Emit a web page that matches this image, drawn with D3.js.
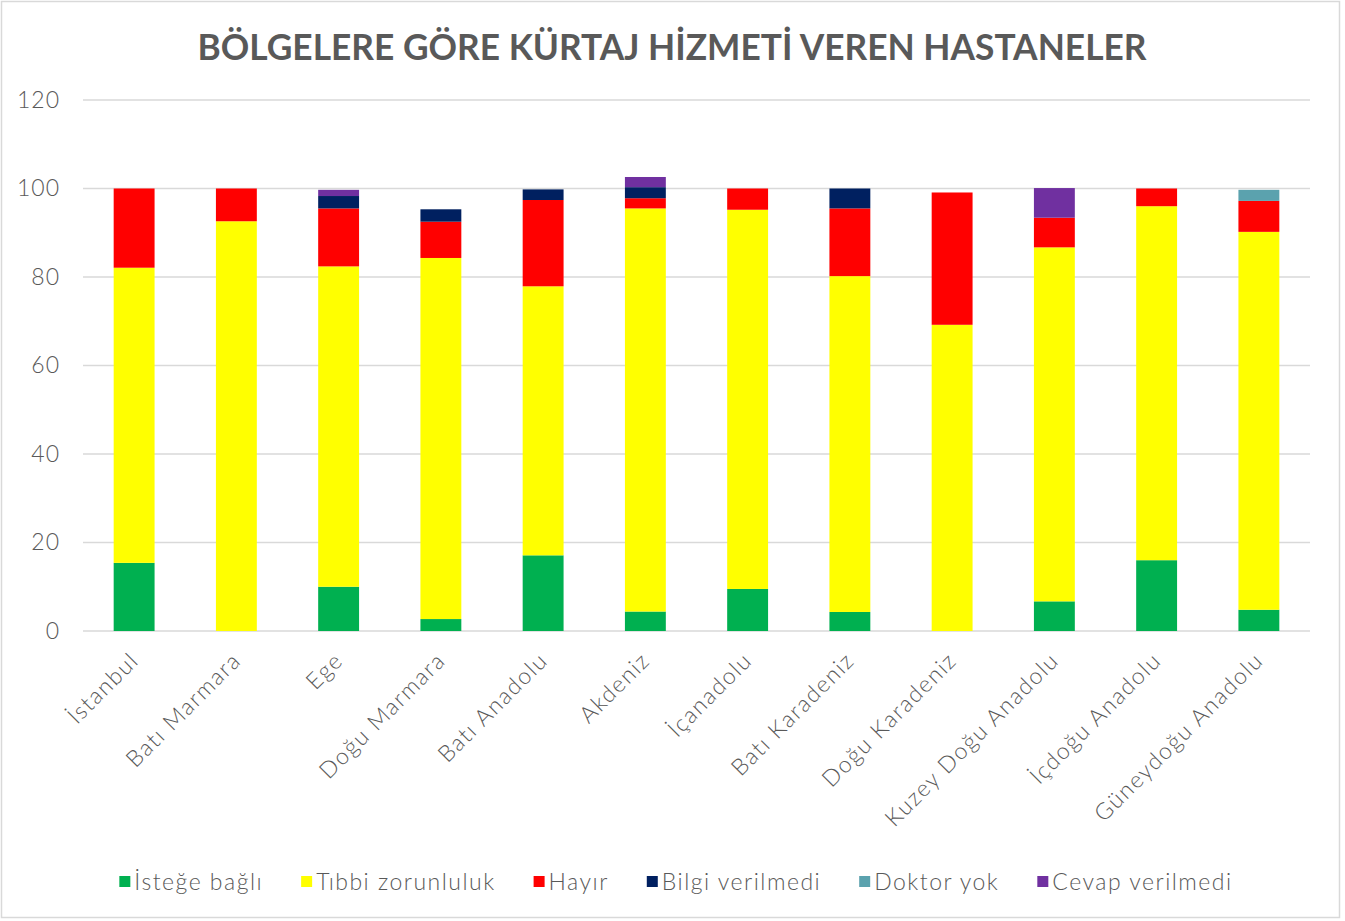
<!DOCTYPE html>
<html>
<head>
<meta charset="utf-8">
<script src="https://cdn.jsdelivr.net/npm/d3@7"></script>
<style>
  body { margin: 0; background: #fff; }
  svg { display: block; }
  text { font-family: Lato, "Open Sans", sans-serif; fill: #595959; }
  .lbl { font-weight: 300; letter-spacing: 1.5px; font-size: 23px; }
</style>
</head>
<body>
<svg id="chart" width="1345" height="921"></svg>
<script>
// regions on the x axis
const regions = ["İstanbul", "Batı Marmara", "Ege", "Doğu Marmara", "Batı Anadolu", "Akdeniz",
    "İçanadolu", "Batı Karadeniz", "Doğu Karadeniz", "Kuzey Doğu Anadolu", "İçdoğu Anadolu", "Güneydoğu Anadolu"];

// series values (percent of hospitals)
const istegeBagli      = [15.4, 0,    10.0, 2.7,  17.1, 4.4,  9.5,  4.3,  0,    6.7,  16.0, 4.8];
const tibbiZorunluluk  = [66.7, 92.6, 72.4, 81.6, 60.8, 91.1, 85.7, 75.9, 69.2, 80.0, 80.0, 85.4];
const hayir            = [17.9, 7.4,  13.1, 8.2,  19.5, 2.3,  4.8,  15.3, 29.9, 6.7,  4.0,  7.0];
const bilgiVerilmedi   = [0,    0,    2.8,  2.8,  2.4,  2.5,  0,    4.5,  0,    0,    0,    0];
const doktorYok        = [0,    0,    0,    0,    0,    0,    0,    0,    0,    0,    0,    2.5];
const cevapVerilmedi   = [0,    0,    1.4,  0,    0,    2.3,  0,    0,    0,    6.7,  0,    0];

const seriesNames = ["İsteğe bağlı", "Tıbbi zorunluluk", "Hayır", "Bilgi verilmedi", "Doktor yok", "Cevap verilmedi"];
const seriesValues = [istegeBagli, tibbiZorunluluk, hayir, bilgiVerilmedi, doktorYok, cevapVerilmedi];
const seriesColors = ["#00B050", "#FFFF00", "#FF0000", "#002060", "#5BA2AE", "#7030A0"];

const yTicks = [0, 20, 40, 60, 80, 100, 120];
const title = "BÖLGELERE GÖRE KÜRTAJ HİZMETİ VEREN HASTANELER";

// build rows for d3.stack
const rows = regions.map((r, i) => {
    const row = {region: r};
    seriesNames.forEach((s, j) => { row[s] = seriesValues[j][i]; });
    return row;
});

const plot = {left: 83, right: 1310, top: 100, bottom: 631};

const svg = d3.select("#chart");

// chart border
svg.append("rect")
    .attr("x", 1.5).attr("y", 1.5)
    .attr("width", 1338).attr("height", 916)
    .attr("fill", "none")
    .attr("stroke", "#d9d9d9")
    .attr("stroke-width", 1.5);

// title
svg.append("text")
    .attr("x", 672).attr("y", 60)
    .attr("text-anchor", "middle")
    .attr("textLength", 949)
    .attr("lengthAdjust", "spacingAndGlyphs")
    .style("font-size", "36px")
    .style("font-weight", "bold")
    .text(title);

const x = d3.scaleBand()
    .domain(regions)
    .range([plot.left, plot.right])
    .paddingInner(0.6)
    .paddingOuter(0.3);

const y = d3.scaleLinear()
    .domain([0, 120])
    .range([plot.bottom, plot.top]);

// gridlines
svg.append("g")
    .selectAll("line")
    .data(yTicks)
    .enter()
    .append("line")
        .attr("x1", plot.left).attr("x2", plot.right)
        .attr("y1", d => y(d)).attr("y2", d => y(d))
        .attr("stroke", "#d9d9d9")
        .attr("stroke-width", 1.5);

// y axis labels
const yAxis = svg.append("g")
    .attr("transform", `translate(${plot.left - 23}, 0)`)
    .call(d3.axisLeft(y).tickValues(yTicks).tickSize(0).tickPadding(0));
yAxis.select(".domain").remove();
yAxis.selectAll("text")
    .attr("class", "lbl")
    .style("font-family", "Lato, sans-serif")
    .style("letter-spacing", "1px")
    .attr("fill", "#595959");

// stacked bars
const stack = d3.stack().keys(seriesNames);
const stacked = stack(rows);

svg.append("g")
    .selectAll("g")
    .data(stacked)
    .enter()
    .append("g")
        .attr("fill", (d, i) => seriesColors[i])
    .selectAll("rect")
    .data(d => d.filter(p => p[1] - p[0] > 0))
    .enter()
    .append("rect")
        .attr("x", d => x(d.data.region))
        .attr("width", x.bandwidth())
        .attr("y", d => y(d[1]))
        .attr("height", d => y(d[0]) - y(d[1]));

// x labels, rotated
svg.append("g")
    .selectAll("text")
    .data(regions)
    .enter()
    .append("text")
        .attr("class", "lbl")
        .attr("transform", d => `translate(${x(d) + x.bandwidth() / 2 + 6}, 662) rotate(-45)`)
        .attr("text-anchor", "end")
        .text(d => d);

// legend
const legend = svg.append("g");
const items = legend.selectAll("g")
    .data(seriesNames)
    .enter()
    .append("g");
items.append("rect")
    .attr("width", 11).attr("height", 11)
    .attr("y", -6)
    .attr("fill", (d, i) => seriesColors[i]);
items.append("text")
    .attr("class", "lbl")
    .attr("x", 15)
    .attr("dy", "0.35em")
    .text(d => d);

// lay the legend items out in a row, centred
const gap = 38;
let offset = 0;
const widths = [];
items.each(function() {
    const w = 15 + this.querySelector("text").getComputedTextLength();
    widths.push(w);
});
const total = d3.sum(widths) + gap * (widths.length - 1);
let start = 676 - total / 2;
items.attr("transform", (d, i) => {
    const px = start + offset;
    offset += widths[i] + gap;
    return `translate(${px}, 882)`;
});
</script>
</body>
</html>
